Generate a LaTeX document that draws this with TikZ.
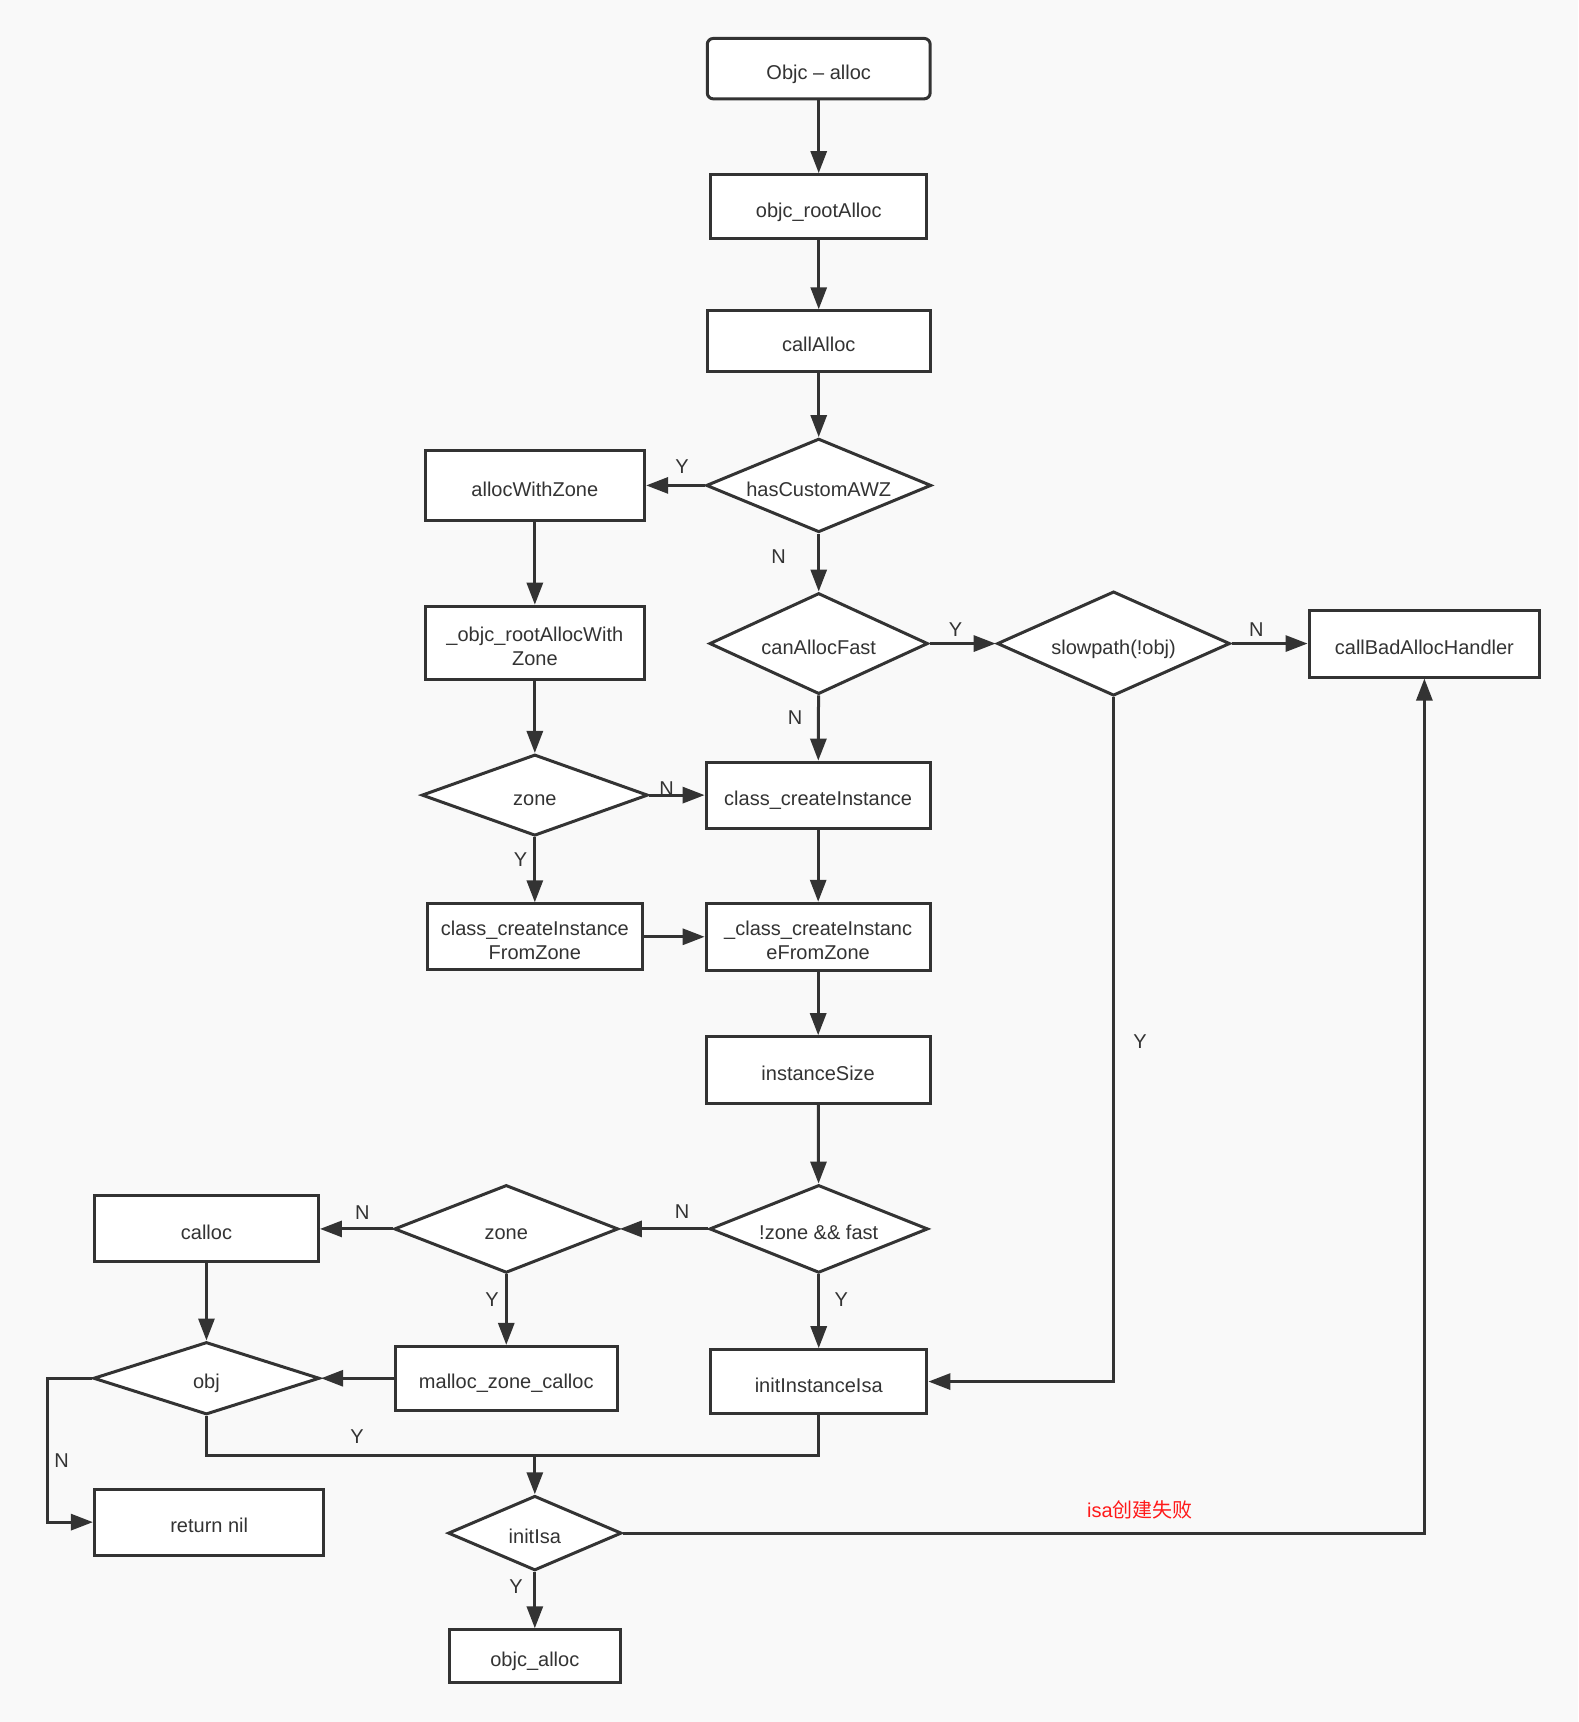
\documentclass[tikz,border=0pt]{standalone}
\usepackage{fontspec}
\setmainfont{Liberation Sans}
\newfontfamily\cjk{Noto Sans CJK SC}
\usetikzlibrary{shapes.geometric,arrows.meta}
\definecolor{bg}{HTML}{F9F9F9}
\definecolor{ln}{HTML}{333333}
\definecolor{tx}{HTML}{333333}
\definecolor{redtx}{HTML}{FF1A1A}
\begin{document}
\begin{tikzpicture}[x=0.549pt,y=-0.549pt,
  every node/.style={font=\fontsize{10pt}{12pt}\selectfont, text=tx},
  box/.style 2 args={draw=ln, line width=1.5pt, fill=white, rectangle, text height=10.6pt, text depth=0pt,
    minimum width={#1*0.549pt}, minimum height={#2*0.549pt}, inner sep=0pt, align=center},
  two/.style={text height=22.6pt, text depth=0pt},
  dia/.style 2 args={draw=ln, line width=1.5pt, fill=white, diamond, aspect=2, text height=10.6pt, text depth=0pt,
    minimum width={#1*0.549pt}, minimum height={#2*0.549pt}, inner sep=0pt, align=center},
  conn/.style={draw=ln, line width=1.5pt, -{Triangle[length=11pt,width=8pt]}},
  plainline/.style={draw=ln, line width=1.5pt},
  lab/.style={inner sep=1pt}
]
\fill[bg] (0,0) rectangle (1437,1568);
\useasboundingbox (0,0) rectangle (1437,1568);

% nodes
\node[box={203}{55}, rounded corners=3pt] (start) at (745.5,62.5) {Objc -- alloc};
\node[box={197}{58}] (root) at (745.5,188) {objc\_rootAlloc};
\node[box={203}{55}] (calla) at (745.5,310.5) {callAlloc};
\node[dia={205}{81}] (awz) at (745.5,442) {hasCustomAWZ};
\node[box={200}{64}] (awzbox) at (487,442) {allocWithZone};
\node[box={200}{67}, two] (rawz) at (487,585.5) {\_objc\_rootAllocWith\\Zone};
\node[dia={199}{92}] (fast) at (745.5,586) {canAllocFast};
\node[dia={212}{95}] (slow) at (1014,586) {slowpath(!obj)};
\node[box={210}{61}] (bad) at (1297,586) {callBadAllocHandler};
\node[dia={206}{74}] (zone1) at (487,724) {zone};
\node[box={204}{60}] (cci) at (745,724) {class\_createInstance};
\node[box={196}{60}, two] (ccifz) at (487,853) {class\_createInstance\\FromZone};
\node[box={204}{61}, two] (ucci) at (745,853) {\_class\_createInstanc\\eFromZone};
\node[box={204}{61}] (isize) at (745,974.5) {instanceSize};
\node[dia={199}{80}] (zf) at (745.5,1119) {!zone \&\& fast};
\node[dia={204}{80}] (zone2) at (461,1119) {zone};
\node[box={204}{60}] (calloc) at (188,1119) {calloc};
\node[dia={206}{66}] (obj) at (188,1255) {obj};
\node[box={202}{58}] (mzc) at (461,1255) {malloc\_zone\_calloc};
\node[box={197}{58}] (iii) at (745.5,1258) {initInstanceIsa};
\node[box={209}{60}] (retnil) at (190.5,1386) {return nil};
\node[dia={158}{68}] (initisa) at (487,1396) {initIsa};
\node[box={156}{48}] (oalloc) at (487,1508) {objc\_alloc};

% connectors
\draw[conn] (start) -- (root);
\draw[conn] (root) -- (calla);
\draw[conn] (calla) -- (awz);
\draw[conn] (awz) -- (awzbox);
\draw[conn] (awz) -- (fast);
\draw[conn] (awzbox) -- (rawz);
\draw[conn] (rawz) -- (zone1);
\draw[conn] (fast) -- (slow);
\draw[conn] (slow) -- (bad);
\draw[conn] (fast) -- (cci);
\draw[conn] (zone1) -- (cci);
\draw[conn] (zone1) -- (ccifz);
\draw[conn] (ccifz) -- (ucci);
\draw[conn] (cci) -- (ucci);
\draw[conn] (ucci) -- (isize);
\draw[conn] (isize) -- (zf);
\draw[conn] (zf) -- (zone2);
\draw[conn] (zf) -- (iii);
\draw[conn] (slow.south) |- (iii.east);
\draw[conn] (zone2) -- (calloc);
\draw[conn] (zone2) -- (mzc);
\draw[conn] (calloc) -- (obj);
\draw[conn] (mzc) -- (obj);
\coordinate (objL) at (43,1255);
\draw[conn] (obj.west) -- (objL) |- (retnil.west);
\coordinate (join) at (487,1325);
\draw[plainline] (obj.south) |- (join) -| (iii.south);
\draw[conn] (join) -- (initisa);
\draw[conn] (initisa.east) -| (bad.south);
\draw[conn] (initisa) -- (oalloc);

% labels
\node[lab] (l1) at (621,425) {Y};
\node[lab] (l2) at (709,507) {N};
\node[lab] (l3) at (870,573) {Y};
\node[lab] (l4) at (1144,573) {N};
\node[lab] (l5) at (724,653) {N};
\node[lab] (l6) at (607,718) {N};
\node[lab] (l7) at (474,783) {Y};
\node[lab] (l8) at (1038,948) {Y};
\node[lab] (l9) at (621,1103) {N};
\node[lab] (l10) at (766,1183) {Y};
\node[lab] (l11) at (330,1104) {N};
\node[lab] (l12) at (448,1183) {Y};
\node[lab] (l13) at (325,1308) {Y};
\node[lab] (l14) at (56,1330) {N};
\node[lab] (l15) at (470,1445) {Y};
\node[lab, text=redtx] (fail) at (1038,1375) {isa{\cjk 创建失败}};
\end{tikzpicture}
\end{document}
